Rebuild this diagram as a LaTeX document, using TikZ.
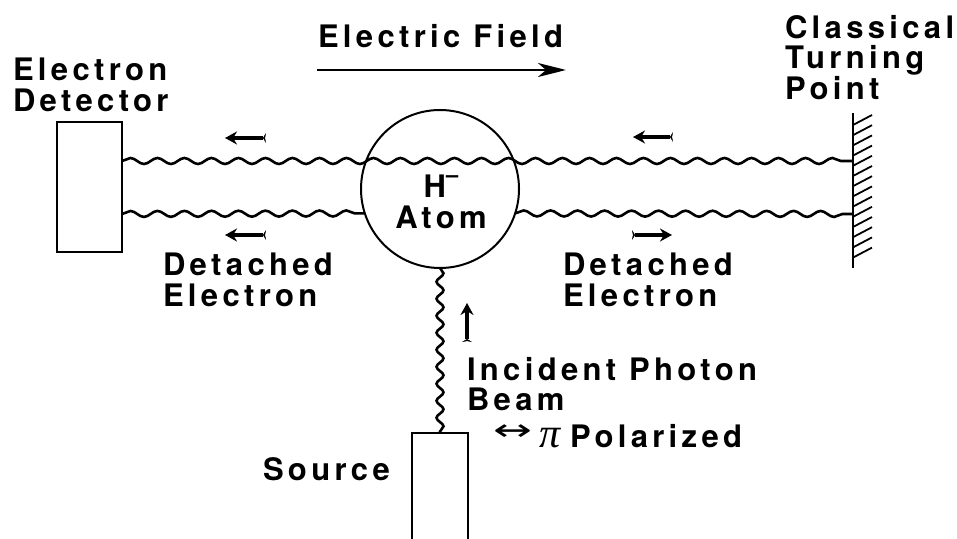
\documentclass[tikz,border=0pt]{standalone}
\usepackage{fontspec}
\usepackage{graphicx}
\setmainfont{TeX Gyre Heros}[LetterSpace=14]
\newfontfamily\symfont{DejaVu Sans}
\newfontfamily\pifont{Liberation Serif}
\usetikzlibrary{decorations.pathmorphing,arrows.meta}
\begin{document}
\begin{tikzpicture}[x=1bp,y=-1bp,
  lbl/.style={inner sep=0,outer sep=0,align=left,font=\fontsize{31bp}{30.5bp}\selectfont\bfseries},
  wave/.style={line width=2.6bp,decorate,decoration={snake,segment length=27bp,amplitude=3bp}},
  pwave/.style={line width=2.6bp,decorate,decoration={snake,segment length=17bp,amplitude=3.5bp}},
  box/.style={draw,line width=2bp,inner sep=0,outer sep=0},
  sarrow/.style={line width=4.5bp,arrows={Stealth[reversed,length=3bp,width=10bp]-Stealth[length=12bp,width=13bp]}},
  farrow/.style={line width=2.8bp,arrows={-Stealth[length=28bp,width=14bp,inset=8bp]}},
]
\useasboundingbox (0,0) rectangle (957,539);

% boxes and atom
\node[box, minimum width=65bp, minimum height=130bp] (det) at (89.5,187) {};
\node[box, circle, minimum size=158bp] (atom) at (440,189) {};
\node[box, minimum width=56bp, minimum height=112bp] (src) at (440,489) {};

% wall
\coordinate (wallT) at (853,113);
\coordinate (wallB) at (853,268);
\draw[line width=2.4bp] (wallT) -- (wallB);
\foreach \yy in {125,135.2,...,259} \draw[line width=1.8bp] (853,\yy) -- ++(19,-10);
\coordinate (wu) at (853,161);
\coordinate (wl) at (853,214);

% electron waves
\draw[wave] (det.east |- wu) -- (wu);
\draw[wave] (det.east |- wl) -- (atom.198.4);
\draw[wave] (atom.-18.4) -- (wl);

% photon beam
\draw[pwave] (atom.south) -- (src.north);

% electric field arrow
\coordinate (efA) at (317,70);
\coordinate (efB) at (566,70);
\draw[farrow] (efA) -- (efB);

% small arrows
\coordinate (a1s) at (266,138); \coordinate (a1e) at (225,138);
\coordinate (a2s) at (266,235); \coordinate (a2e) at (225,235);
\coordinate (a3s) at (673,137); \coordinate (a3e) at (633,137);
\coordinate (a4s) at (632,235); \coordinate (a4e) at (672,235);
\coordinate (a5s) at (467,342); \coordinate (a5e) at (467,303);
\draw[sarrow] (a1s) -- (a1e);
\draw[sarrow] (a2s) -- (a2e);
\draw[sarrow] (a3s) -- (a3e);
\draw[sarrow] (a4s) -- (a4e);
\draw[sarrow] (a5s) -- (a5e);

% labels
\node[lbl, anchor=north west] (edl) at (13,58) {Electron\\Detector};
\node[lbl, anchor=base west] (efl) at (318,48) {Electric Field};
\node[lbl, anchor=north west] (ctl) at (785,15) {Classical\\Turning\\Point};
\node[lbl, anchor=north west] (dl1) at (163,253) {Detached\\Electron};
\node[lbl, anchor=north west] (dl2) at (563,253) {Detached\\Electron};
\node[lbl, anchor=north west] (ipl) at (467,357) {Incident Photon\\Beam};
\node[lbl, anchor=base west] (pol) at (493,447) {\raisebox{7bp}{\scalebox{1.55}[1]{\fontsize{30bp}{30bp}\symfont\mdseries ↔}}\hspace{8bp}{\fontsize{42bp}{42bp}\pifont\itshape\mdseries π}\hspace{9bp}Polarized};
\node[lbl, anchor=base west] (srl) at (263,480) {Source};
\node[lbl, align=center, anchor=north] (atl) at (441,175) {H\raisebox{15bp}{\fontsize{22bp}{22bp}\selectfont –}\\Atom};
\end{tikzpicture}
\end{document}
